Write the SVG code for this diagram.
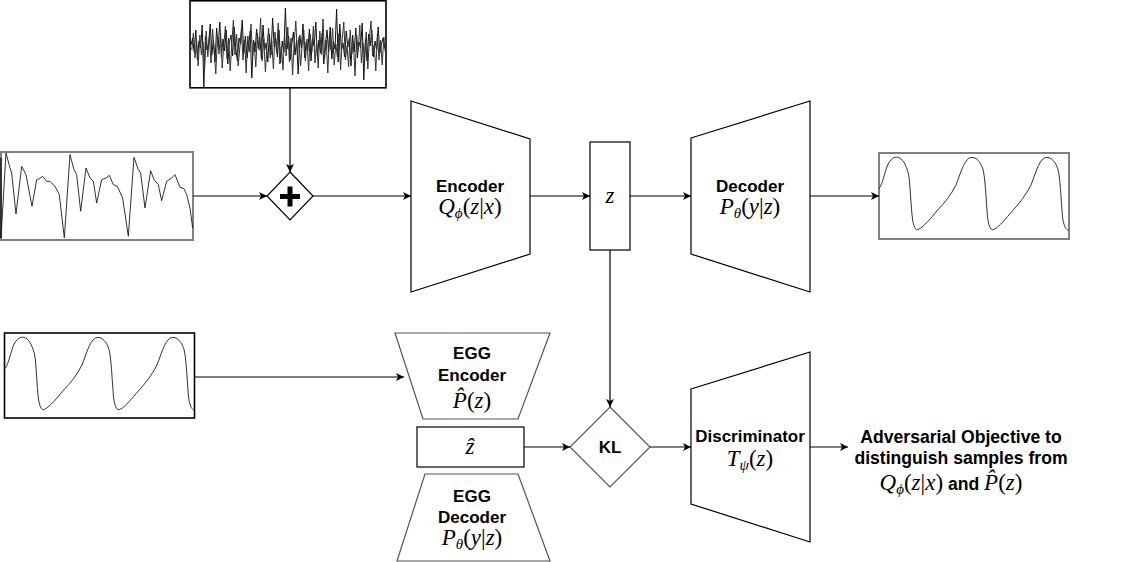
<svg xmlns="http://www.w3.org/2000/svg" width="1122" height="562" viewBox="0 0 1122 562">
<style>
.lbl{font-family:"Liberation Sans",Arial,sans-serif;font-weight:bold;font-size:17px;fill:#000;text-anchor:middle}
.obj{font-size:17.6px}
.math{font-family:"Liberation Serif","Times New Roman",serif;font-style:italic;font-size:23px;fill:#000;text-anchor:middle;font-weight:normal}
.up{font-style:normal}
.sub{font-size:15px}
.shape{fill:#fff;stroke:#000;stroke-width:1.2}
.gshape{fill:#fff;stroke:#555;stroke-width:1.2}
.edge{fill:none;stroke:#000;stroke-width:1.2}
.wave{fill:none;stroke:#1a1a1a}
</style>
<defs>
<marker id="arr" viewBox="0 0 10 10" refX="10" refY="5" markerWidth="8" markerHeight="8" markerUnits="userSpaceOnUse" orient="auto">
<path d="M0,0 L10,5 L0,10 L2.5,5 Z" fill="#000"/>
</marker>
<path id="egg" d="M10,115 C20,100 25,70 35,45 C45,25 55,20 65,22 C80,25 90,45 97,70 C103,95 104,170 110,210 C114,235 120,242 128,238 C145,228 165,205 185,180 C205,160 225,135 240,105 C252,75 262,35 280,24 C295,18 310,28 320,55 C328,80 330,150 335,205 C340,235 345,242 355,238 C370,230 390,205 410,182 C430,160 450,135 465,105 C477,75 487,35 505,24 C520,18 535,28 545,55 C553,80 555,150 560,205 C565,232 570,238 578,242"/>
</defs>
<rect width="1122" height="562" fill="#fff"/>

<g id="noise">
<rect x="190" y="0.8" width="196" height="87" fill="#fff" stroke="#000" stroke-width="1.6"/>
<polyline fill="none" stroke="#111" stroke-width="1" points="191,45 192.6,38 194.2,52 195.8,30 197.4,60 199,41 200.6,48 202.2,25 203.8,88 205.4,36 207,50 208.6,44 210.2,24 211.8,55 213.4,40 215,62 216.6,28 218.2,47 219.8,22 221.4,57 223,39 224.6,51 226.2,30 227.8,64 229.4,42 231,35 232.6,56 234.2,27 235.8,49 237.4,61 239,38 240.6,44 242.2,20 243.8,53 245.4,36 247,58 248.6,46 250.2,31 251.8,78 253.4,40 255,52 256.6,29 258.2,48 259.8,37 261.4,59 263,25 264.6,50 266.2,43 267.8,62 269.4,34 271,55 272.6,18 274.2,47 275.8,39 277.4,57 279,30 280.6,63 282.2,41 283.8,52 285.4,8 287,49 288.6,36 290.2,60 291.8,44 293.4,32 295,55 296.6,40 298.2,74 299.8,35 301.4,48 303,24 304.6,58 306.2,42 307.8,51 309.4,29 311,61 312.6,38 314.2,46 315.8,22 317.4,56 319,40 320.6,53 322.2,33 323.8,64 325.4,45 327,30 328.6,52 330.2,27 331.8,59 333.4,41 335,49 336.6,9 338.2,62 339.8,24 341.4,50 343,43 344.6,57 346.2,31 347.8,47 349.4,38 351,66 352.6,35 354.2,52 355.8,28 357.4,58 359,42 360.6,48 362.2,23 363.8,80 365.4,39 367,61 368.6,34 370.2,46 371.8,30 373.4,57 375,41 376.6,50 378.2,27 379.8,53 381.4,44 383,38 384.6,48"/>
<polyline fill="none" stroke="#333" stroke-width="1" points="191.8,50 193.4,33 195,58 196.6,40 198.2,66 199.8,35 201.4,55 203,42 204.6,70 206.2,31 207.8,57 209.4,36 211,63 212.6,29 214.2,51 215.8,74 217.4,37 219,54 220.6,33 222.2,68 223.8,45 225.4,26 227,59 228.6,38 230.2,71 231.8,43 233.4,20 235,55 236.6,34 238.2,66 239.8,48 241.4,29 243,60 244.6,40 246.2,73 247.8,36 249.4,52 251,24 252.6,57 254.2,42 255.8,67 257.4,33 259,50 260.6,18 262.2,61 263.8,39 265.4,72 267,45 268.6,28 270.2,58 271.8,41 273.4,69 275,32 276.6,53 278.2,23 279.8,64 281.4,46 283,70 284.6,35 286.2,56 287.8,27 289.4,62 291,38 292.6,75 294.2,42 295.8,21 297.4,54 299,37 300.6,66 302.2,44 303.8,30 305.4,61 307,39 308.6,71 310.2,34 311.8,52 313.4,26 315,63 316.6,43 318.2,68 319.8,31 321.4,55 323,19 324.6,58 326.2,40 327.8,73 329.4,36 331,50 332.6,28 334.2,65 335.8,44 337.4,57 339,33 340.6,70 342.2,39 343.8,22 345.4,60 347,46 348.6,67 350.2,30 351.8,54 353.4,41 355,76 356.6,35 358.2,51 359.8,25 361.4,63 363,43 364.6,58 366.2,32 367.8,69 369.4,38 371,21 372.6,56 374.2,45 375.8,71 377.4,34 379,60 380.6,40 382.2,65 383.8,37 385.2,52"/>
</g>

<g id="input-wave">
<rect x="1" y="152" width="192" height="88" fill="#fff" stroke="#808080" stroke-width="2"/>
<line x1="1" y1="158" x2="1" y2="238" stroke="#000" stroke-width="1.2"/>
<path class="wave" transform="translate(0,148) scale(0.3333)" stroke-width="2.7" d="M3,270 L18,15 L30,60 L35,75 L48,198 L65,55 L78,80 L96,175 L110,95 L118,92 L128,85 L140,100 L150,100 L165,115 L178,140 L193,270 L210,20 L222,65 L230,80 L242,190 L258,60 L270,90 L280,100 L290,165 L305,95 L318,90 L328,82 L340,110 L352,115 L368,150 L385,265 L402,28 L415,65 L422,75 L435,180 L452,68 L462,95 L475,110 L485,158 L500,100 L515,90 L525,80 L540,118 L552,122 L560,140 L570,180 L578,240"/>
</g>

<g id="plus">
<polygon class="shape" points="290,172 313,196 290,220 267,196" stroke="#333"/>
<rect x="280" y="194" width="20" height="5" fill="#000"/>
<rect x="287.5" y="186.5" width="5" height="20" fill="#000"/>
</g>

<g id="encoder">
<polygon class="shape" points="411,101 530,139 530,254 411,292"/>
<text class="lbl" x="470" y="192">Encoder</text>
<text class="math" x="470" y="214">Q<tspan class="sub" dy="4">ϕ</tspan><tspan class="up" dy="-4">(</tspan>z<tspan class="up">|</tspan>x<tspan class="up">)</tspan></text>
</g>

<g id="z">
<rect class="shape" x="590" y="142" width="40" height="108"/>
<text class="math" x="610" y="203">z</text>
</g>

<g id="decoder">
<polygon class="shape" points="691,138 810,101 810,292 691,254"/>
<text class="lbl" x="750" y="192">Decoder</text>
<text class="math" x="750" y="214">P<tspan class="sub" dy="4">θ</tspan><tspan class="up" dy="-4">(</tspan>y<tspan class="up">|</tspan>z<tspan class="up">)</tspan></text>
</g>

<g id="output-wave">
<rect x="879" y="153" width="190" height="86" fill="#fff" stroke="#808080" stroke-width="2"/>
<use href="#egg" class="wave" transform="translate(876,150) scale(0.3333)" stroke-width="2.7"/>
</g>

<g id="egg-wave">
<rect x="4.5" y="333" width="190" height="85" fill="#fff" stroke="#000" stroke-width="1.6"/>
<use href="#egg" class="wave" transform="translate(2,330) scale(0.3333)" stroke-width="2.7"/>
</g>

<g id="egg-encoder">
<polygon class="gshape" points="395,333 550,333 518,419 423,419"/>
<text class="lbl" x="472" y="359">EGG</text>
<text class="lbl" x="472" y="381">Encoder</text>
<text class="math" x="472" y="408">P̂<tspan class="up">(</tspan>z<tspan class="up">)</tspan></text>
</g>

<g id="z-hat">
<rect class="shape" x="417" y="427" width="107" height="40" stroke="#222"/>
<text class="math" x="470" y="454">ẑ</text>
</g>

<g id="egg-decoder">
<polygon class="gshape" points="425,474 518,474 550,561 397,561"/>
<text class="lbl" x="472" y="502">EGG</text>
<text class="lbl" x="472" y="523">Decoder</text>
<text class="math" x="472" y="545">P<tspan class="sub" dy="4">θ</tspan><tspan class="up" dy="-4">(</tspan>y<tspan class="up">|</tspan>z<tspan class="up">)</tspan></text>
</g>

<g id="kl">
<polygon class="gshape" points="610,407 650,447 610,487 570,447"/>
<text class="lbl" x="610" y="453">KL</text>
</g>

<g id="discriminator">
<polygon class="shape" points="691,389 810,352 810,542 691,504"/>
<text class="lbl" x="750" y="442">Discriminator</text>
<text class="math" x="750" y="466">T<tspan class="sub" dy="4">ψ</tspan><tspan class="up" dy="-4">(</tspan>z<tspan class="up">)</tspan></text>
</g>

<g id="objective">
<text class="lbl obj" x="961" y="443">Adversarial Objective to</text>
<text class="lbl obj" x="961" y="464">distinguish samples from</text>
<text class="lbl obj" x="951" y="490"><tspan class="math">Q<tspan class="sub" dy="4">ϕ</tspan><tspan class="up" dy="-4">(</tspan>z<tspan class="up">|</tspan>x<tspan class="up">)</tspan></tspan> and <tspan class="math">P̂<tspan class="up">(</tspan>z<tspan class="up">)</tspan></tspan></text>
</g>

<g id="connectors">
<line class="edge" x1="193" y1="196" x2="267" y2="196" marker-end="url(#arr)"/>
<line class="edge" x1="290" y1="88" x2="290" y2="172" marker-end="url(#arr)"/>
<line class="edge" x1="313" y1="196" x2="411" y2="196" marker-end="url(#arr)"/>
<line class="edge" x1="530" y1="196" x2="590" y2="196" marker-end="url(#arr)"/>
<line class="edge" x1="630" y1="196" x2="691" y2="196" marker-end="url(#arr)"/>
<line class="edge" x1="810" y1="196" x2="879" y2="196" marker-end="url(#arr)"/>
<line class="edge" x1="610" y1="250" x2="610" y2="407" marker-end="url(#arr)"/>
<line class="edge" x1="195" y1="377" x2="404" y2="377" marker-end="url(#arr)"/>
<line class="edge" x1="524" y1="447" x2="570" y2="447" marker-end="url(#arr)" stroke="#333"/>
<line class="edge" x1="650" y1="447" x2="691" y2="447" marker-end="url(#arr)"/>
<line class="edge" x1="810" y1="447" x2="848" y2="447" marker-end="url(#arr)" stroke="#444"/>
</g>
</svg>
